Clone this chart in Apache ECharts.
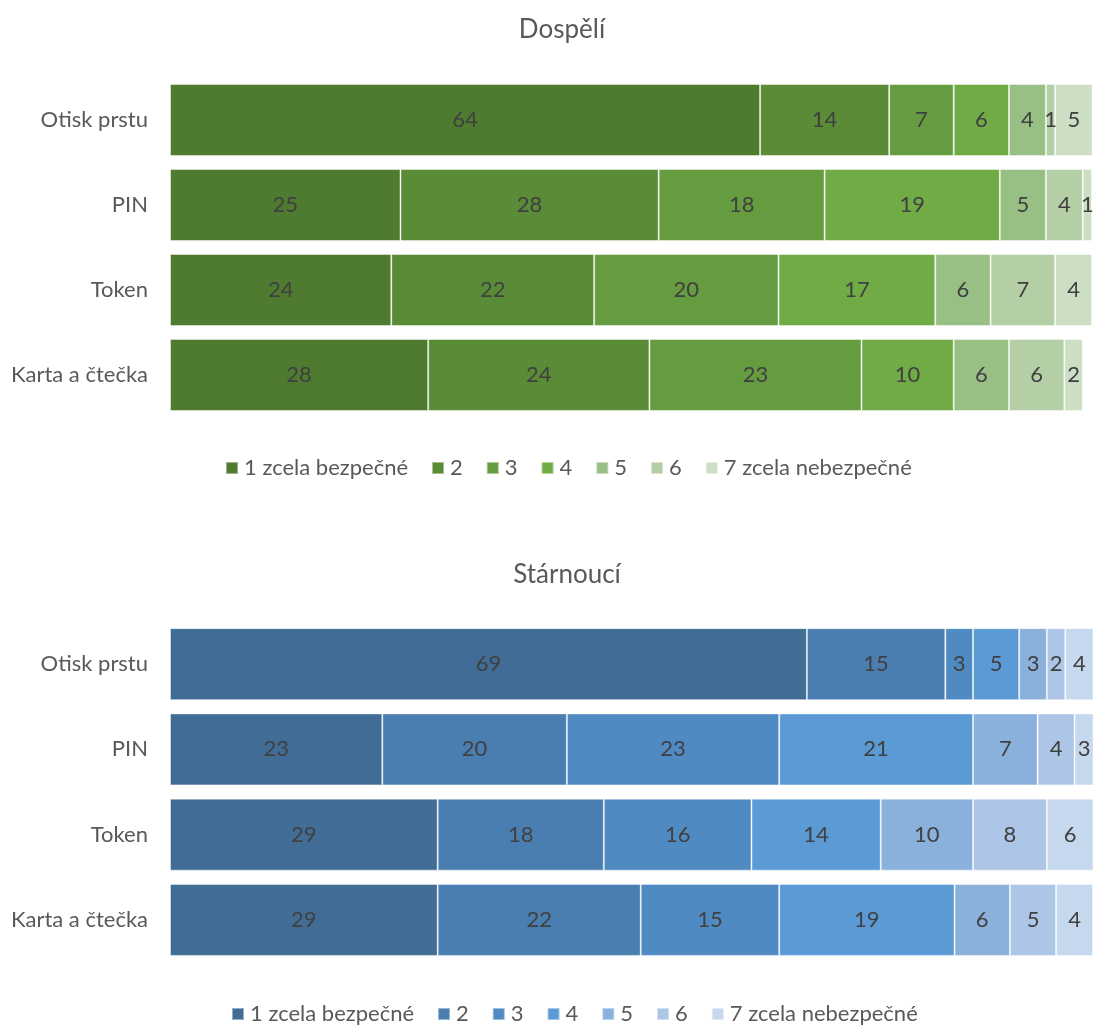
<!DOCTYPE html>
<html><head><meta charset="utf-8">
<script src="https://cdn.jsdelivr.net/npm/echarts@6/dist/echarts.min.js"></script>
<style>html,body{margin:0;padding:0;background:#fff}#c{width:1093px;height:1026px}</style>
</head><body><div id="c"></div>
<script>
const categories = ['Otisk prstu', 'PIN', 'Token', 'Karta a čtečka'];
const seriesNames = ['1 zcela bezpečné', '2', '3', '4', '5', '6', '7 zcela nebezpečné'];
const titleTop = 'Dospělí';
const titleBottom = 'Stárnoucí';
// Dospělí
const adults1 = [64, 25, 24, 28];
const adults2 = [14, 28, 22, 24];
const adults3 = [7, 18, 20, 23];
const adults4 = [6, 19, 17, 10];
const adults5 = [4, 5, 6, 6];
const adults6 = [1, 4, 7, 6];
const adults7 = [5, 1, 4, 2];
// Stárnoucí
const seniors1 = [69, 23, 29, 29];
const seniors2 = [15, 20, 18, 22];
const seniors3 = [3, 23, 16, 15];
const seniors4 = [5, 21, 14, 19];
const seniors5 = [3, 7, 10, 6];
const seniors6 = [2, 4, 8, 5];
const seniors7 = [4, 3, 6, 4];

const adults = [adults1, adults2, adults3, adults4, adults5, adults6, adults7];
const seniors = [seniors1, seniors2, seniors3, seniors4, seniors5, seniors6, seniors7];
const greens = ['#4e7b30', '#5a8c38', '#659c3f', '#70ab46', '#98bf84', '#b4cfa6', '#ccdec4'];
const blues = ['#416c96', '#4a7db0', '#508ac3', '#5b9ad5', '#8ab0dc', '#adc5e6', '#c6d8ee'];

const FONT = 'Lato';
const TXT = '#595959';

function mkSeries(data, colors, idx) {
  return data.map((vals, i) => ({
    type: 'bar', name: seriesNames[i], stack: 's' + idx,
    xAxisIndex: idx, yAxisIndex: idx,
    barWidth: 72,
    data: vals,
    itemStyle: { color: colors[i], borderColor: 'rgba(255,255,255,0.45)', borderWidth: 1 },
    label: { show: true, position: 'inside', color: '#404040', fontSize: 22, fontFamily: FONT },
    emphasis: { disabled: true },
    animation: false
  }));
}

const chart = echarts.init(document.getElementById('c'), null, { renderer: 'canvas' });
chart.setOption({
  animation: false,
  textStyle: { fontFamily: FONT },
  title: [
    { text: titleTop, left: 557, top: 12, textAlign: 'center', textStyle: { fontSize: 26, fontWeight: 'normal', color: TXT, fontFamily: FONT } },
    { text: titleBottom, left: 562, top: 557, textAlign: 'center', textStyle: { fontSize: 26, fontWeight: 'normal', color: TXT, fontFamily: FONT } }
  ],
  legend: [
    { left: 220, top: 452, itemWidth: 12, itemHeight: 12, itemGap: 23, icon: 'rect',
      textStyle: { fontSize: 22, color: TXT, fontFamily: FONT, padding: [0, 0, 0, 1] },
      data: seriesNames.map((n, i) => ({ name: n, itemStyle: { color: greens[i] } })) },
    { left: 226, top: 998, itemWidth: 12, itemHeight: 12, itemGap: 23, icon: 'rect',
      textStyle: { fontSize: 22, color: TXT, fontFamily: FONT, padding: [0, 0, 0, 1] },
      data: seriesNames.map((n, i) => ({ name: n, itemStyle: { color: blues[i] } })) }
  ],
  grid: [
    { left: 170, top: 77.5, width: 922, height: 340 },
    { left: 170, top: 621.5, width: 930, height: 341 }
  ],
  xAxis: [0, 1].map(i => ({ type: 'value', gridIndex: i, min: 0, max: 100, show: false })),
  yAxis: [0, 1].map(i => ({
    type: 'category', gridIndex: i, data: categories, inverse: true,
    axisLine: { show: false }, axisTick: { show: false },
    axisLabel: { color: TXT, fontSize: 22, fontFamily: FONT, margin: 22 }
  })),
  series: [...mkSeries(adults, greens, 0), ...mkSeries(seniors, blues, 1)]
});
</script></body></html>
